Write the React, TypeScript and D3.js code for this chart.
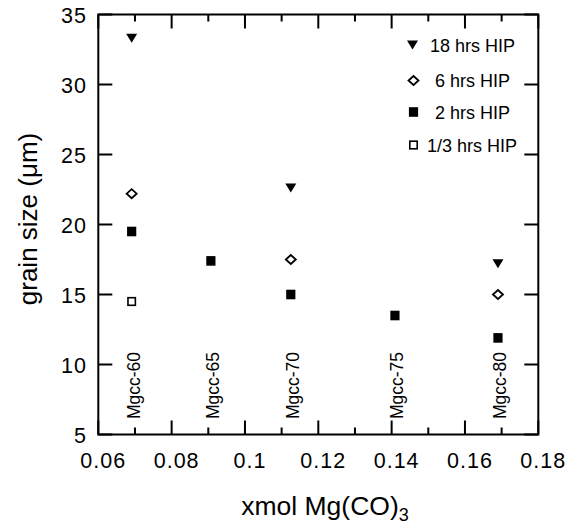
import React from "react";
import * as d3 from "d3";

// ---- data ----
const sampleNames = ["Mgcc-60", "Mgcc-65", "Mgcc-70", "Mgcc-75", "Mgcc-80"];
const sampleX = [0.0691, 0.0907, 0.1125, 0.1409, 0.169];

const hrs18X = [0.0691, 0.1125, 0.169];
const hrs18Y = [33.3, 22.6, 17.2];
const hrs6X = [0.0691, 0.1125, 0.169];
const hrs6Y = [22.2, 17.5, 15.0];
const hrs2X = [0.0691, 0.0907, 0.1125, 0.1409, 0.169];
const hrs2Y = [19.5, 17.4, 15.0, 13.5, 11.9];
const hrs13X = [0.0691];
const hrs13Y = [14.5];

const xTickLabels = ["0.06", "0.08", "0.1", "0.12", "0.14", "0.16", "0.18"];
const yTickLabels = ["5", "10", "15", "20", "25", "30", "35"];
const legendLabels = ["18 hrs HIP", " 6 hrs HIP", " 2 hrs HIP", "1/3 hrs HIP"];

const W = 580;
const H = 524;
const FONT = "'Liberation Sans', Arial, Helvetica, sans-serif";

type Kind = "tri" | "diamond" | "square" | "opensquare";

function Marker({ kind, x, y }: { kind: Kind; x: number; y: number }) {
  if (kind === "tri") {
    return <path d={`M${x - 5.5},${y - 4.5}L${x + 5.5},${y - 4.5}L${x},${y + 4.5}Z`} fill="#000" />;
  }
  if (kind === "diamond") {
    return (
      <path
        d={`M${x},${y - 4.5}L${x + 5},${y}L${x},${y + 4.5}L${x - 5},${y}Z`}
        fill="#fff"
        stroke="#000"
        strokeWidth={1.8}
      />
    );
  }
  if (kind === "square") {
    return <rect x={x - 4.6} y={y - 4.8} width={9.2} height={9.6} fill="#000" />;
  }
  return <rect x={x - 3.7} y={y - 3.8} width={7.4} height={7.6} fill="#fff" stroke="#000" strokeWidth={1.6} />;
}

export default function App() {
  const left = 98.3;
  const right = 538.3;
  const top = 14.5;
  const bottom = 434.5;
  const xs = d3.scaleLinear().domain([0.06, 0.18]).range([left, right]);
  const ys = d3.scaleLinear().domain([5, 35]).range([bottom, top]);

  const xMajor = d3.range(0, 7).map((i) => 0.06 + i * 0.02);
  const xMinor = d3.range(0, 6).map((i) => 0.07 + i * 0.02);
  const yMajor = d3.range(0, 7).map((i) => 5 + i * 5);

  const series: { kind: Kind; xs: number[]; ys: number[] }[] = [
    { kind: "tri", xs: hrs18X, ys: hrs18Y },
    { kind: "diamond", xs: hrs6X, ys: hrs6Y },
    { kind: "square", xs: hrs2X, ys: hrs2Y },
    { kind: "opensquare", xs: hrs13X, ys: hrs13Y },
  ];
  const legendKinds: Kind[] = ["tri", "diamond", "square", "opensquare"];
  const legendY = [45, 80.5, 112, 145];

  return (
    <svg
      width={W}
      height={H}
      style={{ position: "absolute", left: 0, top: 0, display: "block", background: "#fff" }}
      fontFamily={FONT}
    >
      <rect x={0} y={0} width={W} height={H} fill="#fff" />
      {/* frame */}
      <rect x={left} y={top} width={right - left} height={bottom - top} fill="none" stroke="#000" strokeWidth={2} />
      {/* x ticks */}
      {xMajor.map((v, i) => (
        <g key={"xm" + i}>
          <line x1={xs(v)} x2={xs(v)} y1={bottom} y2={bottom - 14} stroke="#000" strokeWidth={2} />
          <line x1={xs(v)} x2={xs(v)} y1={top} y2={top + 14} stroke="#000" strokeWidth={2} />
          <text x={xs(v) + 5} y={468} textAnchor="middle" fontSize={21.5} letterSpacing={1}>
            {xTickLabels[i]}
          </text>
        </g>
      ))}
      {xMinor.map((v, i) => (
        <g key={"xn" + i}>
          <line x1={xs(v)} x2={xs(v)} y1={bottom} y2={bottom - 7} stroke="#000" strokeWidth={2} />
          <line x1={xs(v)} x2={xs(v)} y1={top} y2={top + 7} stroke="#000" strokeWidth={2} />
        </g>
      ))}
      {/* y ticks */}
      {yMajor.map((v, i) => (
        <g key={"ym" + i}>
          <line x1={left} x2={left + 14} y1={ys(v)} y2={ys(v)} stroke="#000" strokeWidth={2} />
          <line x1={right} x2={right - 14} y1={ys(v)} y2={ys(v)} stroke="#000" strokeWidth={2} />
          <text x={87} y={ys(v) + 8} textAnchor="end" fontSize={21.5} letterSpacing={1}>
            {yTickLabels[i]}
          </text>
        </g>
      ))}
      {/* axis titles */}
      <text x={325} y={515} textAnchor="middle" fontSize={26.5}>
        xmol Mg(CO)
        <tspan fontSize={18} dy={6}>
          3
        </tspan>
      </text>
      <text transform={`translate(37,219) rotate(-90)`} textAnchor="middle" fontSize={26}>
        grain size (μm)
      </text>
      {/* sample labels */}
      {sampleNames.map((n, i) => (
        <text
          key={n}
          transform={`translate(${xs(sampleX[i]) + 8},352) rotate(-90)`}
          textAnchor="end"
          fontSize={17.5}
        >
          {n}
        </text>
      ))}
      {/* points */}
      {series.map((s, si) =>
        s.xs.map((xv, j) => <Marker key={si + "-" + j} kind={s.kind} x={xs(xv)} y={ys(s.ys[j])} />)
      )}
      {/* legend */}
      {legendLabels.map((l, i) => (
        <g key={"lg" + i}>
          <Marker kind={legendKinds[i]} x={i === 0 ? 412.5 : 413.5} y={legendY[i]} />
          <text x={i === 3 ? 427 : 430} y={legendY[i] + 6.5} fontSize={18} xmlSpace="preserve" style={{ whiteSpace: "pre" }}>
            {l}
          </text>
        </g>
      ))}
    </svg>
  );
}
